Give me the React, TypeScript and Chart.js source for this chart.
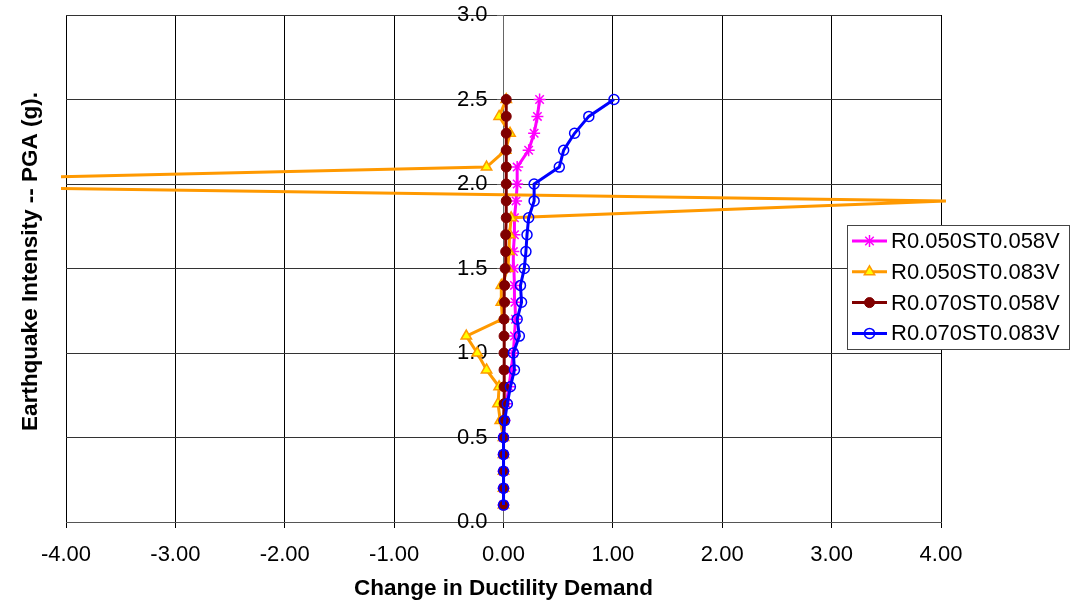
import React, { useEffect, useRef } from "react";
import { Chart, registerables } from "chart.js";
import { drawPoint } from "chart.js/helpers";

Chart.register(...registerables);

// ---- data ----
const pgaLevels = [
  0.1, 0.2, 0.3, 0.4, 0.5, 0.6, 0.7, 0.8, 0.9, 1.0,
  1.1, 1.2, 1.3, 1.4, 1.5, 1.6, 1.7, 1.8, 1.9, 2.0,
  2.1, 2.2, 2.3, 2.4, 2.5,
];

const r050st058v = [
  0, 0, 0, 0, 0, 0.01, 0.025, 0.05, 0.07, 0.09,
  0.1, 0.11, 0.105, 0.1, 0.095, 0.09, 0.1, 0.1, 0.115, 0.125,
  0.125, 0.23, 0.28, 0.31, 0.33,
];

const r050st083v = [
  0, 0, 0, 0, 0, -0.03, -0.05, -0.04, -0.155, -0.24,
  -0.34, -0.01, -0.02, -0.02, 0.04, 0.05, 0.055, 0.07, 4.05, -7.0,
  -0.155, 0.02, 0.06, -0.04, 0.025,
];

const r070st058v = [
  0, 0, 0, 0, 0, 0.002, 0.005, 0.005, 0.005, 0.005,
  0.005, 0.005, 0.01, 0.01, 0.015, 0.02, 0.02, 0.025, 0.025, 0.025,
  0.025, 0.025, 0.025, 0.025, 0.025,
];

const r070st083v = [
  0, 0, 0, 0, 0, 0.01, 0.035, 0.063, 0.1, 0.09,
  0.145, 0.125, 0.165, 0.155, 0.19, 0.205, 0.215, 0.23, 0.28, 0.28,
  0.51, 0.55, 0.65, 0.78, 1.01,
];

const seriesNames = [
  "R0.050ST0.058V",
  "R0.050ST0.083V",
  "R0.070ST0.058V",
  "R0.070ST0.083V",
];

const xTickValues = [-4, -3, -2, -1, 0, 1, 2, 3, 4];
const yTickValues = [0, 0.5, 1.0, 1.5, 2.0, 2.5, 3.0];

const xTitle = "Change in Ductility Demand";
const yTitle = "Earthquake Intensity -- PGA (g).";

const FONT = '"Liberation Sans", Arial, Helvetica, sans-serif';

const toPoints = (xs: number[]) => xs.map((x, i) => ({ x, y: pgaLevels[i] }));

const legendMarkers = [
  { pointStyle: "star", radius: 6, borderWidth: 1.5, fill: "#FF00FF", stroke: "#FF00FF", lineWidth: 3 },
  { pointStyle: "triangle", radius: 6, borderWidth: 1.5, fill: "#FFFF00", stroke: "#FF9900", lineWidth: 3 },
  { pointStyle: "circle", radius: 5, borderWidth: 1, fill: "#800000", stroke: "#800000", lineWidth: 3 },
  { pointStyle: "circle", radius: 5, borderWidth: 1.5, fill: "rgba(0,0,0,0)", stroke: "#0000FF", lineWidth: 3 },
];

const Y_LABEL_SHIFT = 16;

const overlayPlugin = {
  id: "overlay",
  beforeDraw(chart: any) {
    const s = chart.scales.y;
    if (s && !s.__shiftPatched) {
      const orig = s._computeLabelItems.bind(s);
      s._computeLabelItems = (ca: any) => {
        const items = orig(ca);
        items.forEach((it: any) => {
          if (it.options && it.options.translation) it.options.translation[0] -= Y_LABEL_SHIFT;
        });
        return items;
      };
      s._labelItems = null;
      s.__shiftPatched = true;
    }
  },
  afterDraw(chart: any) {
    const ctx = chart.ctx as CanvasRenderingContext2D;
    const area = chart.chartArea;
    ctx.save();
    // axis titles
    ctx.fillStyle = "#000";
    ctx.font = `bold 22.5px ${FONT}`;
    ctx.textAlign = "center";
    ctx.textBaseline = "alphabetic";
    ctx.fillText(xTitle, (area.left + area.right) / 2, 595);
    ctx.save();
    ctx.translate(37, 261.5);
    ctx.rotate(-Math.PI / 2);
    ctx.fillText(yTitle, 0, 0);
    ctx.restore();

    // legend
    const bx = 847.5, by = 225.5, bw = 222, bh = 124;
    ctx.fillStyle = "#fff";
    ctx.fillRect(bx, by, bw, bh);
    ctx.strokeStyle = "#444";
    ctx.lineWidth = 1;
    ctx.strokeRect(bx, by, bw, bh);
    ctx.font = `22px ${FONT}`;
    ctx.textAlign = "left";
    ctx.textBaseline = "middle";
    seriesNames.forEach((name, i) => {
      const y = 241 + i * 30.8;
      const m = legendMarkers[i];
      ctx.strokeStyle = m.stroke;
      ctx.lineWidth = m.lineWidth;
      ctx.beginPath();
      ctx.moveTo(852, y);
      ctx.lineTo(887, y);
      ctx.stroke();
      ctx.fillStyle = m.fill;
      ctx.strokeStyle = m.stroke;
      ctx.lineWidth = m.borderWidth;
      drawPoint(ctx, { pointStyle: m.pointStyle as any, radius: m.radius, rotation: 0, borderWidth: m.borderWidth }, 869.5, y);
      ctx.fillStyle = "#000";
      ctx.fillText(name, 891, y + 1);
    });
    ctx.restore();
  },
};

export default function App() {
  const canvasRef = useRef<HTMLCanvasElement | null>(null);

  useEffect(() => {
    const canvas = canvasRef.current;
    if (!canvas) return;
    const outOfRangeRadius = (r: number) => (ctx: any) => {
      const raw = ctx.raw;
      return raw && Math.abs(raw.x) > 4 ? 0 : r;
    };
    const chart = new Chart(canvas, {
      type: "scatter",
      data: {
        datasets: [
          {
            label: seriesNames[0],
            data: toPoints(r050st058v),
            showLine: true,
            borderColor: "#FF00FF",
            backgroundColor: "#FF00FF",
            borderWidth: 3,
            pointStyle: "star",
            pointRadius: 6,
            pointBorderWidth: 1.5,
            pointBorderColor: "#FF00FF",
            pointBackgroundColor: "#FF00FF",
            order: 4,
          },
          {
            label: seriesNames[1],
            data: toPoints(r050st083v),
            showLine: true,
            borderColor: "#FF9900",
            backgroundColor: "#FFFF00",
            borderWidth: 3,
            pointStyle: "triangle",
            pointRadius: outOfRangeRadius(6),
            pointBorderWidth: 1.5,
            pointBorderColor: "#FF9900",
            pointBackgroundColor: "#FFFF00",
            clip: { left: 5, right: 5, top: 0, bottom: 0 },
            order: 3,
          },
          {
            label: seriesNames[2],
            data: toPoints(r070st058v),
            showLine: true,
            borderColor: "#800000",
            backgroundColor: "#800000",
            borderWidth: 3,
            pointStyle: "circle",
            pointRadius: 5,
            pointBorderWidth: 1,
            pointBorderColor: "#800000",
            pointBackgroundColor: "#800000",
            order: 2,
          },
          {
            label: seriesNames[3],
            data: toPoints(r070st083v),
            showLine: true,
            borderColor: "#0000FF",
            backgroundColor: "rgba(0,0,0,0)",
            borderWidth: 3,
            pointStyle: "circle",
            pointRadius: 5,
            pointBorderWidth: 1.5,
            pointBorderColor: "#0000FF",
            pointBackgroundColor: "rgba(0,0,0,0)",
            order: 1,
          },
        ],
      } as any,
      options: {
        animation: false,
        responsive: true,
        maintainAspectRatio: false,
        events: [],
        layout: { padding: { left: 66, right: 132, top: 15, bottom: 0 } },
        plugins: {
          legend: { display: false },
          tooltip: { enabled: false },
          title: { display: false },
        },
        scales: {
          x: {
            type: "linear",
            min: -4,
            max: 4,
            afterBuildTicks: (s: any) => {
              s.ticks = xTickValues.map((v) => ({ value: v }));
            },
            ticks: {
              callback: (v: any) => Number(v).toFixed(2),
              font: { family: FONT, size: 22 },
              color: "#000",
              padding: 14,
              maxRotation: 0,
              autoSkip: false,
            },
            grid: { color: "#000", lineWidth: 1, tickLength: 6, drawTicks: true },
            border: { color: "#555", width: 1 },
            afterFit: (s: any) => {
              s.height = 83;
              s.paddingLeft = 0;
              s.paddingRight = 0;
            },
          },
          y: {
            type: "linear",
            position: { x: 0 } as any,
            min: 0,
            max: 3,
            afterBuildTicks: (s: any) => {
              s.ticks = yTickValues.map((v) => ({ value: v }));
            },
            ticks: {
              callback: (v: any) => Number(v).toFixed(1),
              font: { family: FONT, size: 22 },
              color: "#000",
              padding: 10,
              autoSkip: false,
            },
            grid: { color: "#333", lineWidth: 1, tickLength: 6, tickColor: "#666" },
            border: { color: "#666", width: 1 },
            afterFit: (s: any) => {
              s.width = 0;
              s.paddingTop = 0;
              s.paddingBottom = 0;
            },
          },
        },
      } as any,
      plugins: [overlayPlugin],
    });
    return () => chart.destroy();
  }, []);

  return (
    <div style={{ position: "absolute", left: 0, top: 0, width: 1073, height: 605, background: "#fff" }}>
      <canvas ref={canvasRef} />
    </div>
  );
}
